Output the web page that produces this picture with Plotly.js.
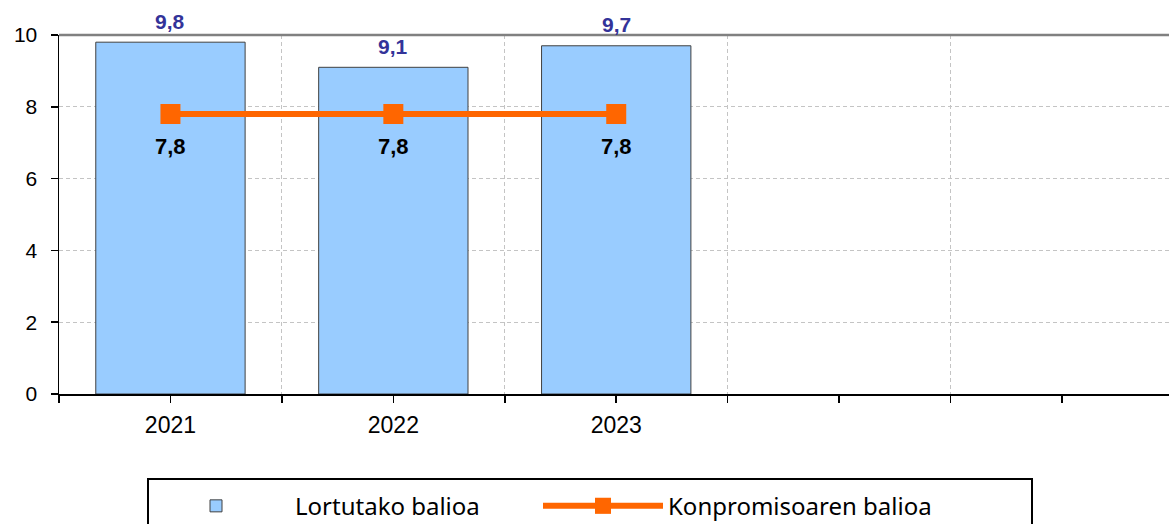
<!DOCTYPE html>
<html>
<head>
<meta charset="utf-8">
<script src="https://cdn.plot.ly/plotly-3.0.1.min.js"></script>
<style>html,body{margin:0;padding:0;background:#fff;}#chart{width:1169px;height:524px;}</style>
</head>
<body>
<div id="chart"></div>
<script>
const categories = ['2021', '2022', '2023', '', ''];
const achieved = [9.8, 9.1, 9.7];
const commitment = [7.8, 7.8, 7.8];
const yTicks = [0, 2, 4, 6, 8, 10];
const seriesNames = ['Lortutako balioa', 'Konpromisoaren balioa'];

const xIdx = categories.map((c, i) => i);
const boundaries = [-0.5].concat(categories.map((c, i) => i + 0.5));
const fmt = v => v.toFixed(1).replace('.', ',');

const traces = [
  {
    type: 'bar',
    name: seriesNames[0],
    legend: 'legend',
    x: achieved.map((v, i) => i),
    y: achieved,
    width: 0.67,
    marker: {color: '#99ccff', line: {color: '#404040', width: 1}},
    hoverinfo: 'skip'
  },
  {
    type: 'scatter',
    mode: 'lines+markers',
    name: seriesNames[1],
    legend: 'legend2',
    x: commitment.map((v, i) => i),
    y: commitment,
    line: {color: '#ff6600', width: 6},
    marker: {symbol: 'square', size: 20, color: '#ff6600'},
    cliponaxis: false,
    hoverinfo: 'skip'
  }
];

const barLabels = achieved.map((v, i) => ({
  x: i, y: v, xref: 'x', yref: 'y',
  text: fmt(v), showarrow: false,
  yanchor: 'middle', yshift: 21,
  font: {family: 'Liberation Sans, Arial, sans-serif', size: 21, color: '#333399', weight: 'bold'}
}));
const lineLabels = commitment.map((v, i) => ({
  x: i, y: v, xref: 'x', yref: 'y',
  text: fmt(v), showarrow: false,
  yanchor: 'middle', yshift: -33,
  font: {family: 'Liberation Sans, Arial, sans-serif', size: 22, color: '#000000', weight: 'bold'}
}));

const legendFont = {family: 'Noto Sans, sans-serif', size: 24, color: '#000'};

const layout = {
  width: 1169, height: 524,
  margin: {l: 59, r: 0, t: 35, b: 130, autoexpand: false},
  paper_bgcolor: '#ffffff', plot_bgcolor: '#ffffff',
  showlegend: true,
  font: {family: 'Liberation Sans, Arial, sans-serif', size: 21, color: '#000'},
  xaxis: {
    type: 'linear',
    range: [-0.5, 4.48],
    tickmode: 'array',
    tickvals: xIdx,
    ticktext: categories,
    ticks: 'outside', ticklen: 7, tickwidth: 1.5, tickcolor: '#000',
    showgrid: false,
    showline: true, linecolor: '#000', linewidth: 2,
    zeroline: false,
    ticklabelstandoff: 2,
    tickfont: {size: 23, color: '#000'},
    minor: {
      tickmode: 'array',
      tickvals: boundaries,
      ticks: 'outside', ticklen: 7, tickwidth: 1.5, tickcolor: '#000',
      showgrid: true, gridcolor: '#c4c4c4', gridwidth: 1, griddash: '4px,3px'
    },
    fixedrange: true
  },
  yaxis: {
    range: [0, 10],
    tickmode: 'array',
    tickvals: yTicks,
    ticks: 'outside', ticklen: 7, tickwidth: 1.5, tickcolor: '#000',
    showgrid: true, gridcolor: '#c4c4c4', gridwidth: 1, griddash: '4px,3px',
    showline: true, linecolor: '#000', linewidth: 1.5,
    zeroline: false,
    ticklabelstandoff: 9,
    tickfont: {size: 21, color: '#000'},
    fixedrange: true
  },
  shapes: [
    {type: 'line', xref: 'paper', yref: 'paper', x0: 0, x1: 1, y0: 1, y1: 1,
     line: {color: '#808080', width: 2.5}, layer: 'above'},
    {type: 'rect', xref: 'paper', yref: 'paper',
     x0: (148 - 59) / 1110, x1: (1032 - 59) / 1110, y0: -0.2368, y1: -0.6,
     line: {color: '#000', width: 2}, fillcolor: 'rgba(0,0,0,0)'}
  ],
  annotations: barLabels.concat(lineLabels),
  legend: {
    orientation: 'h',
    x: (137 - 59) / 1110, xanchor: 'left',
    y: -0.25, yanchor: 'top',
    borderwidth: 0, bgcolor: 'rgba(0,0,0,0)',
    font: legendFont,
    itemwidth: 148
  },
  legend2: {
    orientation: 'h',
    x: (538 - 59) / 1110, xanchor: 'left',
    y: -0.25, yanchor: 'top',
    borderwidth: 0, bgcolor: 'rgba(0,0,0,0)',
    font: legendFont,
    itemwidth: 120
  }
};

Plotly.newPlot('chart', traces, layout, {displayModeBar: false, staticPlot: true});
</script>
</body>
</html>
